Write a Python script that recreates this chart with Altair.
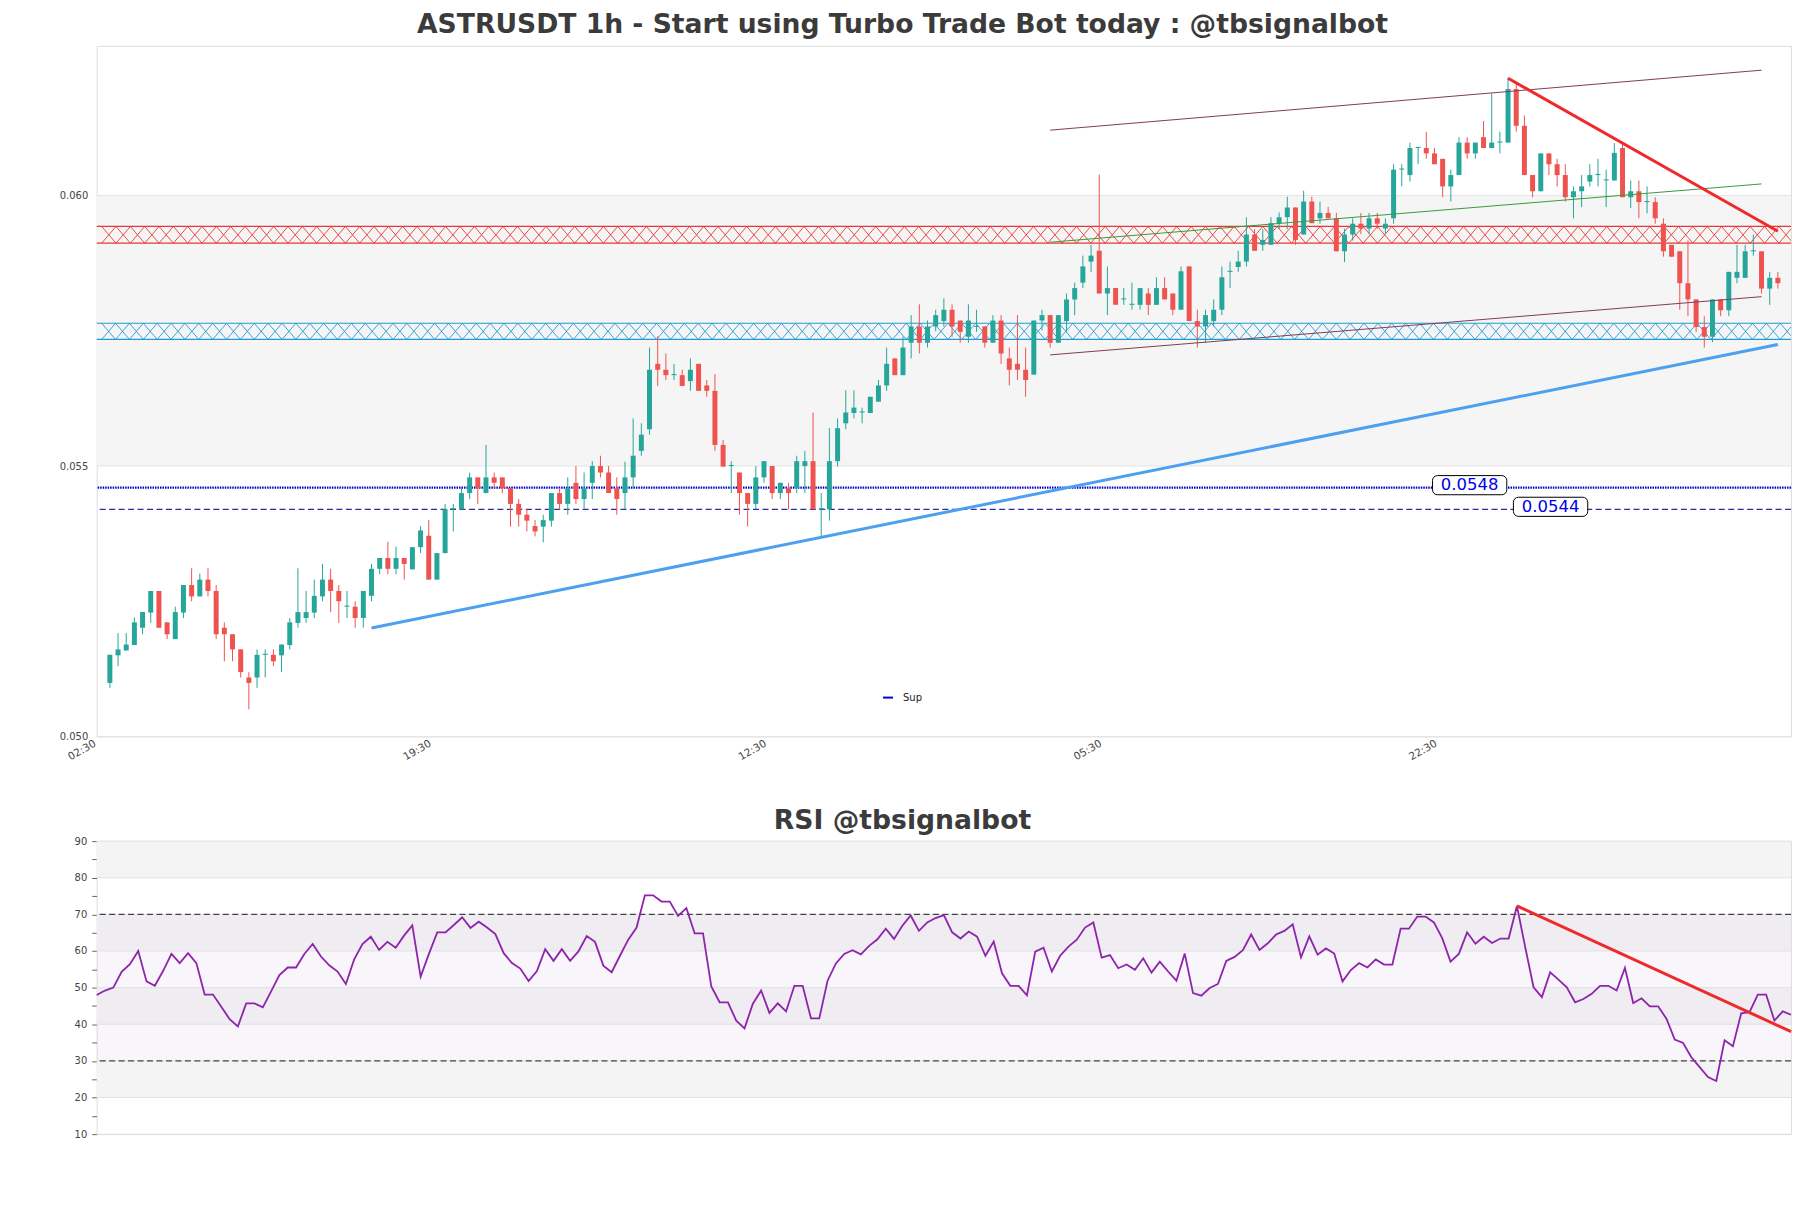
import json
import altair as alt
import numpy as np
import pandas as pd

# ------------------------------------------------------------------ data
opens = [
    0.05099, 0.05150, 0.05159, 0.05169, 0.05201, 0.05229, 0.05269, 0.05211, 0.05180, 0.05229,
    0.05280, 0.05259, 0.05290, 0.05269, 0.05201, 0.05189, 0.05161, 0.05109, 0.05109, 0.05151,
    0.05151, 0.05150, 0.05169, 0.05210, 0.05219, 0.05229, 0.05259, 0.05290, 0.05269, 0.05240,
    0.05240, 0.05219, 0.05260, 0.05310, 0.05330, 0.05310, 0.05330, 0.05309, 0.05350, 0.05371,
    0.05290, 0.05339, 0.05420, 0.05420, 0.05450, 0.05479, 0.05450, 0.05479, 0.05479, 0.05459,
    0.05430, 0.05410, 0.05389, 0.05388, 0.05399, 0.05450, 0.05430, 0.05469, 0.05439, 0.05469,
    0.05500, 0.05488, 0.05459, 0.05450, 0.05479, 0.05528, 0.05568, 0.05689, 0.05678, 0.05668,
    0.05668, 0.05657, 0.05689, 0.05649, 0.05639, 0.05539, 0.05500, 0.05488, 0.05450, 0.05430,
    0.05479, 0.05500, 0.05450, 0.05459, 0.05459, 0.05500, 0.05509, 0.05420, 0.05420, 0.05509,
    0.05579, 0.05598, 0.05599, 0.05598, 0.05619, 0.05649, 0.05699, 0.05668, 0.05728, 0.05758,
    0.05728, 0.05758, 0.05768, 0.05789, 0.05769, 0.05739, 0.05757, 0.05758, 0.05728, 0.05769,
    0.05699, 0.05689, 0.05678, 0.05669, 0.05769, 0.05779, 0.05728, 0.05768, 0.05808, 0.05839,
    0.05878, 0.05898, 0.05819, 0.05829, 0.05808, 0.05798, 0.05798, 0.05819, 0.05798, 0.05829,
    0.05819, 0.05789, 0.05869, 0.05768, 0.05758, 0.05768, 0.05789, 0.05859, 0.05868, 0.05878,
    0.05928, 0.05909, 0.05909, 0.05949, 0.05960, 0.05978, 0.05928, 0.05989, 0.05958, 0.05968,
    0.05958, 0.05897, 0.05928, 0.05948, 0.05939, 0.05958, 0.05939, 0.05958, 0.06048, 0.06038,
    0.06088, 0.06088, 0.06078, 0.06068, 0.06017, 0.06038, 0.06098, 0.06078, 0.06108, 0.06088,
    0.06098, 0.06098, 0.06197, 0.06129, 0.06038, 0.06008, 0.06078, 0.06058, 0.06038, 0.05997,
    0.06008, 0.06026, 0.06038, 0.06028, 0.06028, 0.06088, 0.05997, 0.06008, 0.05988, 0.05988,
    0.05948, 0.05909, 0.05897, 0.05838, 0.05808, 0.05757, 0.05739, 0.05808, 0.05788, 0.05848,
    0.05848, 0.05897, 0.05897, 0.05828, 0.05848,
]
highs = [
    0.05151, 0.05191, 0.05191, 0.05220, 0.05230, 0.05269, 0.05269, 0.05211, 0.05240, 0.05280,
    0.05311, 0.05301, 0.05311, 0.05280, 0.05211, 0.05189, 0.05161, 0.05119, 0.05161, 0.05161,
    0.05161, 0.05170, 0.05219, 0.05311, 0.05269, 0.05290, 0.05319, 0.05310, 0.05280, 0.05269,
    0.05250, 0.05269, 0.05319, 0.05330, 0.05360, 0.05351, 0.05330, 0.05350, 0.05389, 0.05400,
    0.05339, 0.05430, 0.05430, 0.05459, 0.05488, 0.05479, 0.05539, 0.05488, 0.05479, 0.05459,
    0.05439, 0.05420, 0.05400, 0.05410, 0.05450, 0.05459, 0.05479, 0.05500, 0.05488, 0.05509,
    0.05519, 0.05500, 0.05479, 0.05508, 0.05588, 0.05579, 0.05719, 0.05740, 0.05708, 0.05689,
    0.05678, 0.05699, 0.05689, 0.05659, 0.05670, 0.05548, 0.05509, 0.05488, 0.05450, 0.05500,
    0.05509, 0.05500, 0.05469, 0.05469, 0.05519, 0.05528, 0.05599, 0.05450, 0.05570, 0.05588,
    0.05640, 0.05640, 0.05608, 0.05628, 0.05659, 0.05719, 0.05699, 0.05739, 0.05779, 0.05799,
    0.05769, 0.05789, 0.05810, 0.05799, 0.05769, 0.05799, 0.05789, 0.05758, 0.05779, 0.05779,
    0.05719, 0.05779, 0.05719, 0.05769, 0.05789, 0.05779, 0.05779, 0.05819, 0.05839, 0.05889,
    0.05909, 0.06039, 0.05869, 0.05829, 0.05829, 0.05839, 0.05829, 0.05829, 0.05849, 0.05849,
    0.05819, 0.05869, 0.05869, 0.05789, 0.05789, 0.05808, 0.05869, 0.05878, 0.05898, 0.05960,
    0.05938, 0.05938, 0.05960, 0.05969, 0.05998, 0.05978, 0.06009, 0.05998, 0.05989, 0.05979,
    0.05968, 0.05939, 0.05958, 0.05968, 0.05968, 0.05968, 0.05958, 0.06058, 0.06058, 0.06098,
    0.06090, 0.06118, 0.06088, 0.06068, 0.06048, 0.06108, 0.06108, 0.06098, 0.06138, 0.06189,
    0.06118, 0.06218, 0.06207, 0.06148, 0.06038, 0.06078, 0.06078, 0.06068, 0.06058, 0.06017,
    0.06038, 0.06058, 0.06068, 0.06048, 0.06097, 0.06098, 0.06028, 0.06028, 0.06017, 0.05997,
    0.05958, 0.05909, 0.05897, 0.05917, 0.05808, 0.05777, 0.05808, 0.05808, 0.05859, 0.05909,
    0.05909, 0.05928, 0.05897, 0.05859, 0.05859,
]
lows = [
    0.05090, 0.05130, 0.05159, 0.05169, 0.05189, 0.05210, 0.05201, 0.05180, 0.05180, 0.05219,
    0.05250, 0.05259, 0.05259, 0.05180, 0.05139, 0.05139, 0.05109, 0.05050, 0.05090, 0.05109,
    0.05130, 0.05119, 0.05161, 0.05201, 0.05210, 0.05219, 0.05250, 0.05230, 0.05210, 0.05219,
    0.05201, 0.05201, 0.05250, 0.05300, 0.05300, 0.05300, 0.05290, 0.05309, 0.05339, 0.05290,
    0.05290, 0.05339, 0.05379, 0.05420, 0.05439, 0.05430, 0.05450, 0.05459, 0.05450, 0.05388,
    0.05388, 0.05379, 0.05370, 0.05359, 0.05388, 0.05420, 0.05410, 0.05430, 0.05420, 0.05439,
    0.05479, 0.05450, 0.05410, 0.05420, 0.05459, 0.05519, 0.05558, 0.05648, 0.05659, 0.05659,
    0.05648, 0.05639, 0.05639, 0.05628, 0.05528, 0.05499, 0.05450, 0.05410, 0.05388, 0.05420,
    0.05469, 0.05439, 0.05439, 0.05420, 0.05450, 0.05450, 0.05420, 0.05370, 0.05399, 0.05499,
    0.05568, 0.05588, 0.05579, 0.05598, 0.05619, 0.05639, 0.05668, 0.05668, 0.05699, 0.05708,
    0.05719, 0.05749, 0.05758, 0.05739, 0.05728, 0.05728, 0.05748, 0.05719, 0.05728, 0.05689,
    0.05649, 0.05659, 0.05628, 0.05669, 0.05751, 0.05719, 0.05728, 0.05748, 0.05779, 0.05829,
    0.05859, 0.05819, 0.05779, 0.05798, 0.05798, 0.05789, 0.05789, 0.05779, 0.05798, 0.05808,
    0.05779, 0.05789, 0.05768, 0.05719, 0.05728, 0.05758, 0.05779, 0.05829, 0.05859, 0.05869,
    0.05898, 0.05898, 0.05909, 0.05938, 0.05938, 0.05909, 0.05928, 0.05949, 0.05948, 0.05958,
    0.05897, 0.05877, 0.05917, 0.05929, 0.05929, 0.05939, 0.05929, 0.05948, 0.06017, 0.06026,
    0.06058, 0.06068, 0.06058, 0.05997, 0.05989, 0.06038, 0.06068, 0.06068, 0.06088, 0.06088,
    0.06078, 0.06098, 0.06118, 0.06038, 0.05997, 0.06008, 0.06038, 0.06017, 0.05989, 0.05958,
    0.05979, 0.06017, 0.06017, 0.05979, 0.06028, 0.05997, 0.05977, 0.05958, 0.05967, 0.05948,
    0.05887, 0.05887, 0.05789, 0.05777, 0.05748, 0.05719, 0.05729, 0.05777, 0.05777, 0.05838,
    0.05848, 0.05889, 0.05819, 0.05798, 0.05828,
]
closes = [
    0.05151, 0.05161, 0.05170, 0.05211, 0.05230, 0.05269, 0.05201, 0.05189, 0.05230, 0.05280,
    0.05259, 0.05290, 0.05269, 0.05189, 0.05189, 0.05161, 0.05119, 0.05099, 0.05151, 0.05153,
    0.05139, 0.05170, 0.05211, 0.05230, 0.05230, 0.05260, 0.05290, 0.05269, 0.05250, 0.05242,
    0.05219, 0.05269, 0.05310, 0.05330, 0.05310, 0.05330, 0.05319, 0.05350, 0.05381, 0.05290,
    0.05339, 0.05420, 0.05422, 0.05450, 0.05479, 0.05459, 0.05479, 0.05469, 0.05459, 0.05430,
    0.05410, 0.05399, 0.05379, 0.05400, 0.05450, 0.05430, 0.05459, 0.05439, 0.05459, 0.05500,
    0.05488, 0.05450, 0.05439, 0.05479, 0.05519, 0.05558, 0.05678, 0.05678, 0.05668, 0.05670,
    0.05648, 0.05678, 0.05639, 0.05639, 0.05539, 0.05499, 0.05502, 0.05450, 0.05430, 0.05479,
    0.05509, 0.05450, 0.05469, 0.05450, 0.05509, 0.05509, 0.05420, 0.05422, 0.05509, 0.05570,
    0.05599, 0.05608, 0.05601, 0.05628, 0.05649, 0.05689, 0.05668, 0.05719, 0.05758, 0.05728,
    0.05758, 0.05779, 0.05789, 0.05758, 0.05748, 0.05769, 0.05759, 0.05728, 0.05769, 0.05708,
    0.05678, 0.05678, 0.05659, 0.05769, 0.05779, 0.05728, 0.05779, 0.05808, 0.05829, 0.05869,
    0.05889, 0.05819, 0.05829, 0.05798, 0.05810, 0.05800, 0.05829, 0.05798, 0.05829, 0.05808,
    0.05789, 0.05860, 0.05768, 0.05758, 0.05779, 0.05789, 0.05849, 0.05861, 0.05878, 0.05928,
    0.05898, 0.05918, 0.05949, 0.05960, 0.05978, 0.05918, 0.05989, 0.05949, 0.05968, 0.05958,
    0.05897, 0.05928, 0.05948, 0.05939, 0.05958, 0.05948, 0.05948, 0.06048, 0.06050, 0.06088,
    0.06090, 0.06078, 0.06058, 0.06017, 0.06038, 0.06098, 0.06078, 0.06098, 0.06088, 0.06098,
    0.06100, 0.06197, 0.06129, 0.06038, 0.06008, 0.06078, 0.06058, 0.06038, 0.05997, 0.06008,
    0.06017, 0.06038, 0.06040, 0.06030, 0.06079, 0.05997, 0.06008, 0.05988, 0.05990, 0.05958,
    0.05897, 0.05887, 0.05838, 0.05808, 0.05757, 0.05739, 0.05808, 0.05788, 0.05859, 0.05859,
    0.05897, 0.05899, 0.05828, 0.05848, 0.05838,
]
rsi_values = [
    48.0, 49.2, 50.0, 54.3, 56.4, 60.0, 51.7, 50.5, 54.6, 59.2,
    56.7, 59.4, 56.7, 48.1, 48.1, 44.8, 41.4, 39.4, 45.7, 45.7,
    44.6, 49.0, 53.4, 55.5, 55.5, 59.2, 61.9, 58.5, 56.1, 54.4,
    51.0, 57.7, 61.9, 63.9, 60.3, 62.5, 60.9, 64.2, 67.0, 53.0,
    59.2, 65.1, 65.1, 67.1, 69.2, 66.3, 68.0, 66.4, 64.6, 59.4,
    56.7, 55.2, 51.8, 54.5, 60.5, 57.3, 60.5, 57.3, 59.9, 64.1,
    62.5, 56.0, 54.2, 58.7, 63.1, 66.4, 75.2, 75.2, 73.5, 73.5,
    69.6, 71.7, 64.8, 64.8, 50.3, 46.0, 46.0, 41.0, 38.9, 45.6,
    49.2, 43.1, 45.7, 43.5, 50.5, 50.5, 41.6, 41.6, 51.9, 56.6,
    59.2, 60.2, 59.1, 61.4, 63.2, 66.1, 63.3, 66.9, 69.7, 65.5,
    67.8, 69.0, 69.8, 65.1, 63.4, 65.3, 63.9, 58.7, 62.6, 53.9,
    50.5, 50.5, 47.9, 59.8, 60.9, 54.4, 58.7, 61.2, 63.1, 66.4,
    67.8, 58.2, 58.9, 55.3, 56.3, 54.9, 58.0, 54.1, 57.1, 54.4,
    51.9, 59.3, 48.5, 47.8, 49.9, 51.0, 57.3, 58.4, 60.2, 64.5,
    60.3, 62.1, 64.5, 65.5, 67.3, 58.3, 64.0, 59.0, 60.7, 59.3,
    51.7, 54.8, 56.7, 55.5, 57.7, 56.3, 56.3, 66.1, 66.1, 69.4,
    69.4, 67.8, 63.5, 57.1, 59.2, 65.1, 62.0, 63.9, 62.2, 63.4,
    63.4, 72.3, 61.0, 50.1, 47.4, 54.2, 52.2, 50.1, 46.0, 46.9,
    48.3, 50.5, 50.5, 49.2, 55.4, 45.8, 47.1, 44.9, 44.9, 41.5,
    35.8, 34.9, 31.0, 28.3, 25.6, 24.5, 35.6, 34.0, 43.0, 43.3,
    48.1, 48.1, 41.0, 43.5, 42.6,
]

time_tick_pos = [-1, 40, 81, 122, 163]
time_tick_labels = ["02:30", "19:30", "12:30", "05:30", "22:30"]
price_ticks = [0.050, 0.055, 0.060]
price_band_lo = [0.055]
price_band_hi = [0.060]

zone_lo = [0.05912, 0.05734]
zone_hi = [0.05943, 0.05764]

level_values = [0.0546, 0.0542]
level_texts = ["0.0548", "0.0544"]
level_text_pos = [166.3, 176.2]

sup_trend_x = [32, 204]
sup_trend_y = [0.052006, 0.057247]
res_trend_x = [171, 204]
res_trend_y = [0.062170, 0.059341]
chan_x = [115, 202]
chan_upper_y = [0.061210, 0.062319]
chan_mid_y = [0.059138, 0.060216]
chan_lower_y = [0.057055, 0.058131]

rsi_ticks = [10, 15, 20, 25, 30, 35, 40, 45, 50, 55, 60, 65, 70, 75, 80, 85, 90]
rsi_grid = [10, 20, 30, 40, 50, 60, 70, 80, 90]
rsi_band_lo = [80, 60, 40, 20]
rsi_band_hi = [90, 70, 50, 30]
rsi_levels = [70, 30]
rsi_trend_x = [171, 204]
rsi_trend_y = [72.3, 38.0]

TITLE_MAIN = "ASTRUSDT 1h - Start using Turbo Trade Bot today : @tbsignalbot"
TITLE_RSI = "RSI @tbsignalbot"

# ------------------------------------------------------------------ layout / style
FONT = "DejaVu Sans"
W, H1, H2 = 1700, 693, 294
X_DOM = [-1, 205]
Y_DOM = [0.050, 0.06277]
RX_DOM = [0, 204]
RY_DOM = [10, 90]
GREEN, RED = "#26a69a", "#ef5350"
ZONE_COLORS = ["#e53935", "#1e9bd7"]
TITLE_DX = -41.5
TITLE_SIZE = 26.7

xs = alt.Scale(domain=X_DOM, nice=False, zero=False)
ys = alt.Scale(domain=Y_DOM, nice=False, zero=False)

label_expr = (
    json.dumps(time_tick_labels)
    + "[indexof(" + json.dumps(time_tick_pos) + ", datum.value)]"
)
x_axis = alt.Axis(
    values=time_tick_pos, labelExpr=label_expr, labelAngle=-30, labelAlign="right",
    labelBaseline="middle", ticks=False, domain=False, grid=False, labelFont=FONT,
    labelFontSize=10.5, labelColor="#444444", labelPadding=6, labelOffset=-7, title=None,
    labelOverlap=False, labelFlush=False,
)
y_axis = alt.Axis(
    values=price_ticks, format=".3f", ticks=False, domain=False, grid=False,
    labelFont=FONT, labelFontSize=10, labelColor="#444444", labelPadding=9, title=None,
)


def px(f):
    return alt.X(f, type="quantitative", scale=xs, axis=x_axis)


def py(f):
    return alt.Y(f, type="quantitative", scale=ys, axis=y_axis)


candles = pd.DataFrame({"i": list(range(len(opens))), "open": opens, "high": highs,
                        "low": lows, "close": closes})
candles["dir"] = np.where(candles["close"] >= candles["open"], "up", "down")
ccolor = alt.Color("dir:N", scale=alt.Scale(domain=["up", "down"], range=[GREEN, RED]), legend=None)

layers = []
layers.append(
    alt.Chart(pd.DataFrame({"lo": price_band_lo, "hi": price_band_hi}))
    .mark_rect(color="#f5f5f5")
    .encode(x=alt.value(0), x2=alt.value(W), y=py("lo"), y2=alt.Y2("hi"))
)
layers.append(
    alt.Chart(pd.DataFrame({"v": price_ticks})).mark_rule(color="#e4e4e4", strokeWidth=1)
    .encode(y=py("v"))
)

# hatched zones
px_per_idx = W / (X_DOM[1] - X_DOM[0])
X_PATH = "M-0.86,-1L0.86,1M-0.86,1L0.86,-1"
for lo, hi, col in zip(zone_lo, zone_hi, ZONE_COLORS):
    zone_px = (hi - lo) / (Y_DOM[1] - Y_DOM[0]) * H1
    step = 0.86 * zone_px / px_per_idx
    pat = pd.DataFrame({"x": np.arange(X_DOM[0] + step / 2, X_DOM[1] + step, step)})
    pat["y"] = (lo + hi) / 2
    layers.append(
        alt.Chart(pat).mark_point(shape=X_PATH, filled=False, size=zone_px ** 2,
                                  strokeWidth=0.9, color=col, opacity=1, clip=True)
        .encode(x=px("x"), y=py("y"))
    )
    layers.append(
        alt.Chart(pd.DataFrame({"v": [lo, hi]})).mark_rule(color=col, strokeWidth=1.2)
        .encode(y=py("v"))
    )

# horizontal levels
layers.append(
    alt.Chart(pd.DataFrame({"v": [level_values[0]], "name": ["Sup"]}))
    .mark_rule(strokeDash=[1.5, 1], strokeWidth=2.2)
    .encode(
        y=py("v"),
        stroke=alt.Stroke(
            "name:N", scale=alt.Scale(domain=["Sup"], range=["#0000cd"]),
            legend=alt.Legend(
                title=None, orient="none", legendX=788, legendY=648, symbolType="stroke",
                symbolSize=100, symbolStrokeWidth=2, symbolDash=[10, 0], labelFont=FONT,
                labelFontSize=10, labelColor="#222222", labelOffset=9, padding=0,
            ),
        ),
    )
)
layers.append(
    alt.Chart(pd.DataFrame({"v": [level_values[1]]}))
    .mark_rule(color="#2e2ea0", strokeDash=[6, 3.5], strokeWidth=1.3)
    .encode(y=py("v"))
)

# candles
layers.append(
    alt.Chart(candles).mark_rule(strokeWidth=1)
    .encode(x=px("i"), y=py("low"), y2=alt.Y2("high"), color=ccolor)
)
layers.append(
    alt.Chart(candles).mark_bar(size=5)
    .encode(x=px("i"), y=py("open"), y2=alt.Y2("close"), color=ccolor)
)

# trend lines
for xl, yl, col, sw in [
    (chan_x, chan_upper_y, "#7e3d55", 1),
    (chan_x, chan_lower_y, "#7e3d55", 1),
    (chan_x, chan_mid_y, "#3a9a3a", 1),
    (sup_trend_x, sup_trend_y, "#4d9ff0", 3),
    (res_trend_x, res_trend_y, "#f02a2a", 3),
]:
    layers.append(
        alt.Chart(pd.DataFrame({"x": xl, "y": yl})).mark_line(color=col, strokeWidth=sw)
        .encode(x=px("x"), y=py("y"))
    )

# level labels
BOX_HALF_W = 37.5 / px_per_idx
BOX_HALF_H = 9.6 / H1 * (Y_DOM[1] - Y_DOM[0])
LABEL_RAISE = 2.5 / H1 * (Y_DOM[1] - Y_DOM[0])
lab = pd.DataFrame({"i": level_text_pos, "v": level_values, "t": level_texts})
lab["yc"] = lab["v"] + LABEL_RAISE
lab["x1"] = lab["i"] - BOX_HALF_W
lab["x2"] = lab["i"] + BOX_HALF_W
lab["y1"] = lab["yc"] - BOX_HALF_H
lab["y2"] = lab["yc"] + BOX_HALF_H
layers.append(
    alt.Chart(lab).mark_rect(fill="white", stroke="black", strokeWidth=1, cornerRadius=5)
    .encode(x=px("x1"), x2=alt.X2("x2"), y=py("y1"), y2=alt.Y2("y2"))
)
layers.append(
    alt.Chart(lab).mark_text(font=FONT, fontSize=16.5, color="#0000ee", baseline="middle",
                             align="center")
    .encode(x=px("i"), y=py("yc"), text="t:N")
)

main = alt.layer(*layers).properties(
    width=W, height=H1,
    title=alt.TitleParams(TITLE_MAIN, font=FONT, fontSize=TITLE_SIZE, fontWeight="bold",
                          color="#3b3b3b", anchor="middle", frame="group", dx=TITLE_DX,
                          offset=7),
)

# ------------------------------------------------------------------ RSI panel
rxs = alt.Scale(domain=RX_DOM, nice=False, zero=False)
rys = alt.Scale(domain=RY_DOM, nice=False, zero=False)
ry_axis = alt.Axis(
    values=rsi_ticks, labelExpr="datum.value % 10 === 0 ? datum.label : ''",
    ticks=True, tickSize=5, tickColor="#666666", tickWidth=1, domain=False, grid=False,
    labelFont=FONT, labelFontSize=10, labelColor="#444444", labelPadding=5, title=None,
)


def rx(f):
    return alt.X(f, type="quantitative", scale=rxs, axis=None)


def ry(f):
    return alt.Y(f, type="quantitative", scale=rys, axis=ry_axis)


rl = []
rl.append(
    alt.Chart(pd.DataFrame({"lo": rsi_band_lo, "hi": rsi_band_hi})).mark_rect(color="#f4f4f4")
    .encode(x=alt.value(0), x2=alt.value(W), y=ry("lo"), y2=alt.Y2("hi"))
)
rl.append(
    alt.Chart(pd.DataFrame({"lo": [rsi_levels[1]], "hi": [rsi_levels[0]]}))
    .mark_rect(color="#d9c8ea", opacity=0.18)
    .encode(x=alt.value(0), x2=alt.value(W), y=ry("lo"), y2=alt.Y2("hi"))
)
rl.append(
    alt.Chart(pd.DataFrame({"v": rsi_grid})).mark_rule(color="#e2e2e2", strokeWidth=1)
    .encode(y=ry("v"))
)
rl.append(
    alt.Chart(pd.DataFrame({"v": rsi_levels}))
    .mark_rule(color="#444444", strokeDash=[6, 3.5], strokeWidth=1.2)
    .encode(y=ry("v"))
)
rl.append(
    alt.Chart(pd.DataFrame({"i": list(range(len(rsi_values))), "r": rsi_values}))
    .mark_line(color="#8e24aa", strokeWidth=1.8)
    .encode(x=rx("i"), y=ry("r"))
)
rl.append(
    alt.Chart(pd.DataFrame({"x": rsi_trend_x, "y": rsi_trend_y}))
    .mark_line(color="#f02a2a", strokeWidth=3)
    .encode(x=rx("x"), y=ry("y"))
)
rsi = alt.layer(*rl).properties(
    width=W, height=H2,
    title=alt.TitleParams(TITLE_RSI, font=FONT, fontSize=TITLE_SIZE, fontWeight="bold",
                          color="#3b3b3b", anchor="middle", frame="group", dx=TITLE_DX,
                          offset=1),
)

chart = (
    alt.vconcat(main, rsi, spacing=105, bounds="flush")
    .properties(padding={"left": 50, "top": 1, "right": 5, "bottom": 5})
    .configure_view(stroke="#d9d9d9", strokeWidth=1)
    .configure(font=FONT)
)
chart.save("out.html", embed_options={"renderer": "svg", "actions": False})
